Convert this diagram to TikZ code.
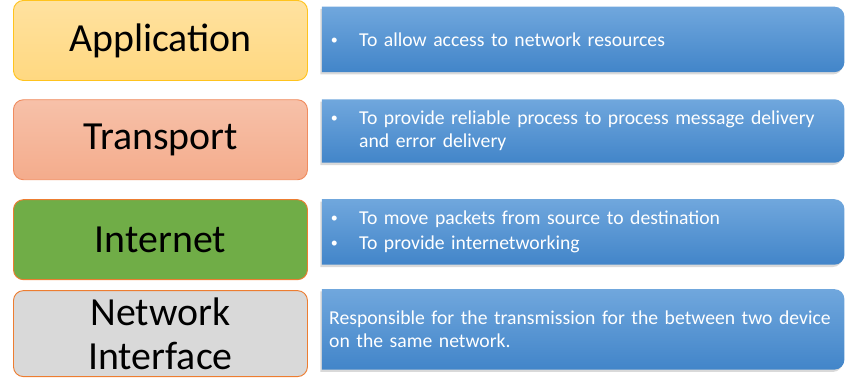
\documentclass[tikz,border=0pt]{standalone}
\usepackage{fontspec}
\setmainfont{Carlito}
\usepackage{tikz}
\usetikzlibrary{
  positioning,
  backgrounds,
  shadows
}
\definecolor{appfill}{RGB}{255,216,128}
\definecolor{appline}{RGB}{255,195,30}
\definecolor{trnfill}{RGB}{244,172,140}
\definecolor{trnline}{RGB}{240,140,95}
\definecolor{netfill}{RGB}{112,173,71}
\definecolor{nifill} {RGB}{217,217,217}
\definecolor{orgline}{RGB}{237,125,49}
\definecolor{desctop}{RGB}{112,167,221}
\definecolor{descbot}{RGB}{66,133,201}
\newcommand{\bul}{\makebox[0.9cm][l]{\hspace{0.05cm}\raisebox{0.06cm}{\fontsize{12}{12}\selectfont\textbullet}}}
\tikzset{
  layer/.style={
    draw=#1, rounded corners=0.3cm, line width=0.8pt,
    minimum width=8.82cm, minimum height=2.4cm,
    align=center, font=\fontsize{34}{37.5}\selectfont, text=black
  },
  desc/.style={
    minimum width=15.66cm, minimum height=#1,
    inner xsep=0.21cm, text width=15.24cm, align=left,
    font=\fontsize{16.8}{19.3}\selectfont, text=white
  },
  descshade/.style={
    top color=desctop, bottom color=descbot,
    drop shadow={shadow xshift=-0.05cm, shadow yshift=-0.07cm, opacity=0.3}
  },
}

\begin{document}
\begin{tikzpicture}[node distance=0.6cm]
\useasboundingbox (0,0) rectangle (25.47,-11.49);

% ── Layers ────────────────────────────────────────────────────────────────────
\node[layer=appline, top color=appfill!75!white, bottom color=appfill,
      anchor=north west] (app) at (0.39,0) {Application};

\node[layer=trnline, top color=trnfill!75!white, bottom color=trnfill,
      below=0.55cm of app] (trn) {Transport};

\node[layer=orgline, fill=netfill, below=0.57cm of trn] (net) {Internet};

\node[layer=orgline, fill=nifill, minimum height=2.58cm,
      below=0.3cm of net] (ni) {Network\\Interface};

% ── Descriptions ──────────────────────────────────────────────────────────────
\node[desc=1.95cm, right=0.42cm of app.north east, anchor=north west,
      yshift=-0.2cm] (d1) {
  \bul To allow access to network resources
};

\node[desc=1.89cm, right=0.42cm of trn.north east, anchor=north west] (d2) {
  \bul To provide reliable process to process message delivery\\
  \hspace*{0.9cm}and error delivery
};

\node[desc=1.95cm, right=0.42cm of net.north east, anchor=north west] (d3) {
  \bul To move packets from source to destination\\[2.5pt]
  \bul To provide internetworking
};

\node[desc=2.4cm, right=0.42cm of ni.north east, anchor=north west,
      yshift=0.03cm] (d4) {
  Responsible for the transmission for the between two device\\
  on the same network.
};

% ── Blue panels behind the descriptions ───────────────────────────────────────
\begin{scope}[on background layer]
\foreach \d in {d1,d2,d3,d4}
  \shade[descshade]
    (\d.south west) -- (\d.north west) --
    ([xshift=-0.3cm]\d.north east) arc[start angle=90, end angle=0, radius=0.3cm] --
    ([yshift=0.3cm]\d.south east) arc[start angle=0, end angle=-90, radius=0.3cm] --
    cycle;
\end{scope}

\end{tikzpicture}
\end{document}
